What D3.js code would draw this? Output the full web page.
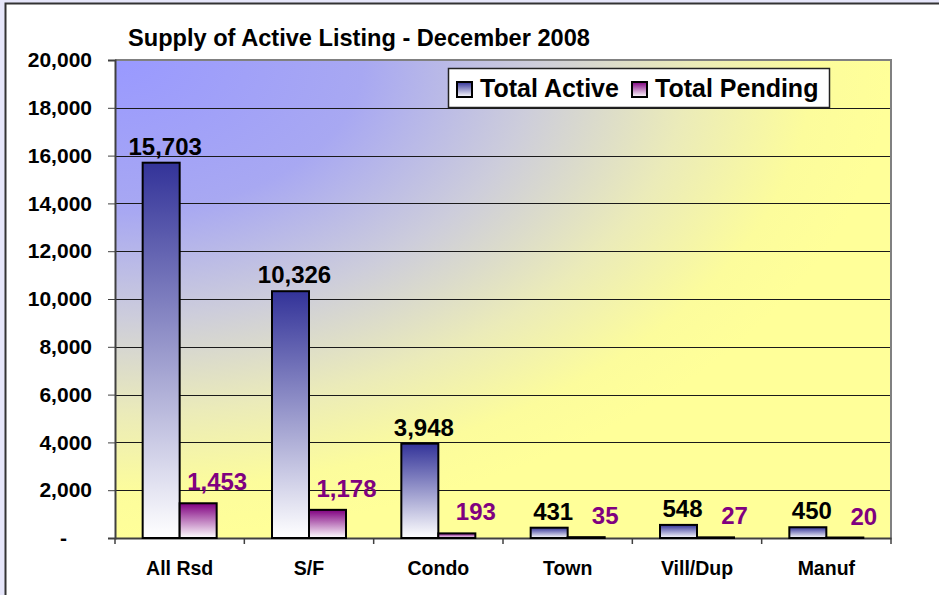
<!DOCTYPE html>
<html>
<head>
<meta charset="utf-8">
<script src="https://cdn.jsdelivr.net/npm/d3@7"></script>
<style>
  html, body { margin: 0; padding: 0; background: #e6e6fa; }
  svg { display: block; font-family: "Liberation Sans", Arial, sans-serif; font-weight: bold; }
</style>
</head>
<body>
<svg id="chart" width="939" height="595"></svg>
<script>
const categories = ['All Rsd', 'S/F', 'Condo', 'Town', 'Vill/Dup', 'Manuf'];
const seriesNames = ['Total Active', 'Total Pending'];
const totalActive = [15703, 10326, 3948, 431, 548, 450];
const totalPending = [1453, 1178, 193, 35, 27, 20];
const yTicks = [0, 2000, 4000, 6000, 8000, 10000, 12000, 14000, 16000, 18000, 20000];

const svg = d3.select('#chart');
const plot = { left: 115, top: 60, right: 891, bottom: 538 };

// white slide area with dark border
svg.append('rect')
  .attr('x', 5.5).attr('y', 3.5)
  .attr('width', 960).attr('height', 620)
  .attr('fill', '#fff')
  .attr('stroke', '#333').attr('stroke-width', 2);

const defs = svg.append('defs');
const bg = defs.append('radialGradient')
  .attr('id', 'plotBg')
  .attr('cx', 0).attr('cy', 0).attr('r', 1).attr('fx', 0).attr('fy', 0);
[[0, '#9999ff'], [0.32, '#a8a8f2'], [0.54, '#cdcddb'], [0.74, '#ebebb9'], [0.9, '#fcfc9c'], [1, '#ffff99']]
  .forEach(s => bg.append('stop').attr('offset', s[0]).attr('stop-color', s[1]));

function barGrad(id, top) {
  const g = defs.append('linearGradient').attr('id', id)
    .attr('x1', 0).attr('y1', 0).attr('x2', 0).attr('y2', 1);
  g.append('stop').attr('offset', 0).attr('stop-color', top);
  g.append('stop').attr('offset', 1).attr('stop-color', '#ffffff');
}
barGrad('gActive', '#333399');
barGrad('gPending', '#800080');
const fills = ['url(#gActive)', 'url(#gPending)'];

const x0 = d3.scaleBand().domain(categories).range([plot.left, plot.right]).padding(0);
const groupW = 74;
const x1 = d3.scaleBand().domain(seriesNames).range([0, groupW]).padding(0);
const y = d3.scaleLinear().domain([0, 20000]).range([plot.bottom, plot.top]);

svg.append('rect')
  .attr('x', plot.left).attr('y', plot.top)
  .attr('width', plot.right - plot.left).attr('height', plot.bottom - plot.top)
  .attr('fill', 'url(#plotBg)');

// gridlines
svg.append('g').selectAll('line')
  .data(yTicks.filter(d => d > 0 && d < 20000))
  .enter().append('line')
  .attr('x1', plot.left).attr('x2', plot.right)
  .attr('y1', d => Math.round(y(d)) + 0.5).attr('y2', d => Math.round(y(d)) + 0.5)
  .attr('stroke', '#1a1a1a').attr('stroke-width', 1);

// plot border top / right
svg.append('path')
  .attr('d', `M${plot.left},${plot.top}H${plot.right}V${plot.bottom}`)
  .attr('fill', 'none').attr('stroke', '#808080').attr('stroke-width', 2);

// y axis
const yAxis = d3.axisLeft(y).tickValues(yTicks).tickSize(7).tickPadding(16)
  .tickFormat(d => d === 0 ? '-' : d3.format(',')(d));
const yg = svg.append('g').attr('transform', `translate(${plot.left},0)`).call(yAxis);
yg.select('.domain').attr('stroke', '#404040').attr('stroke-width', 2);
yg.selectAll('.tick line').attr('stroke', '#404040');
yg.selectAll('.tick text')
  .attr('font-size', 21).attr('fill', '#000')
  .attr('font-family', '"Liberation Sans", Arial, sans-serif').attr('font-weight', 'bold');
yg.selectAll('.tick text').filter(d => d === 0).attr('dx', -25);

// x axis
const xAxis = d3.axisBottom(x0).tickSize(0).tickPadding(23);
const xg = svg.append('g').attr('transform', `translate(0,${plot.bottom})`).call(xAxis);
xg.select('.domain').attr('stroke', '#404040').attr('stroke-width', 2);
xg.selectAll('.tick text')
  .attr('font-size', 19.5).attr('fill', '#000')
  .attr('font-family', '"Liberation Sans", Arial, sans-serif').attr('font-weight', 'bold');
xg.append('g').selectAll('line')
  .data(categories.concat(['end']))
  .enter().append('line')
  .attr('x1', (d, i) => i < categories.length ? x0(d) : plot.right)
  .attr('x2', (d, i) => i < categories.length ? x0(d) : plot.right)
  .attr('y1', 0).attr('y2', 6)
  .attr('stroke', '#404040').attr('stroke-width', 1.5);

// bars
const rows = categories.map((c, i) => ({ cat: c, vals: [totalActive[i], totalPending[i]] }));
const groups = svg.append('g').selectAll('g')
  .data(rows).enter().append('g')
  .attr('transform', d => `translate(${x0(d.cat) + (x0.bandwidth() - groupW) / 2},0)`);

groups.selectAll('rect')
  .data(d => d.vals.map((v, k) => ({ v, k })))
  .enter().append('rect')
  .attr('x', d => x1(seriesNames[d.k]))
  .attr('y', d => y(d.v))
  .attr('width', x1.bandwidth())
  .attr('height', d => y(0) - y(d.v))
  .attr('fill', d => fills[d.k])
  .attr('stroke', '#000').attr('stroke-width', 2);

// value labels
groups.selectAll('text.val')
  .data(d => d.vals.map((v, k) => ({ v, k })))
  .enter().append('text')
  .attr('class', 'val')
  .attr('x', d => x1(seriesNames[d.k]) + x1.bandwidth() / 2 + (d.k === 0 ? 4 : 19))
  .attr('y', d => y(d.v) - (d.k === 0 ? 8 : 13))
  .attr('text-anchor', 'middle')
  .attr('font-size', 24)
  .attr('fill', d => d.k === 0 ? '#000' : '#800080')
  .text(d => d3.format(',')(d.v));

// title
svg.append('text')
  .attr('x', 128).attr('y', 46)
  .attr('font-size', 23.6).attr('fill', '#000')
  .text('Supply of Active Listing - December 2008');

// legend
const lg = svg.append('g').attr('transform', 'translate(448,68)');
lg.append('rect').attr('x', 0.5).attr('y', 0.5).attr('width', 381).attr('height', 39)
  .attr('fill', '#fff').attr('stroke', '#222').attr('stroke-width', 1.5);
const lx = [9, 184];
seriesNames.forEach((name, k) => {
  lg.append('rect').attr('x', lx[k]).attr('y', 14).attr('width', 15).attr('height', 15)
    .attr('fill', fills[k]).attr('stroke', '#000').attr('stroke-width', 2);
  lg.append('text').attr('x', lx[k] + 23).attr('y', 29)
    .attr('font-size', 25).attr('fill', '#000').text(name);
});
</script>
</body>
</html>
